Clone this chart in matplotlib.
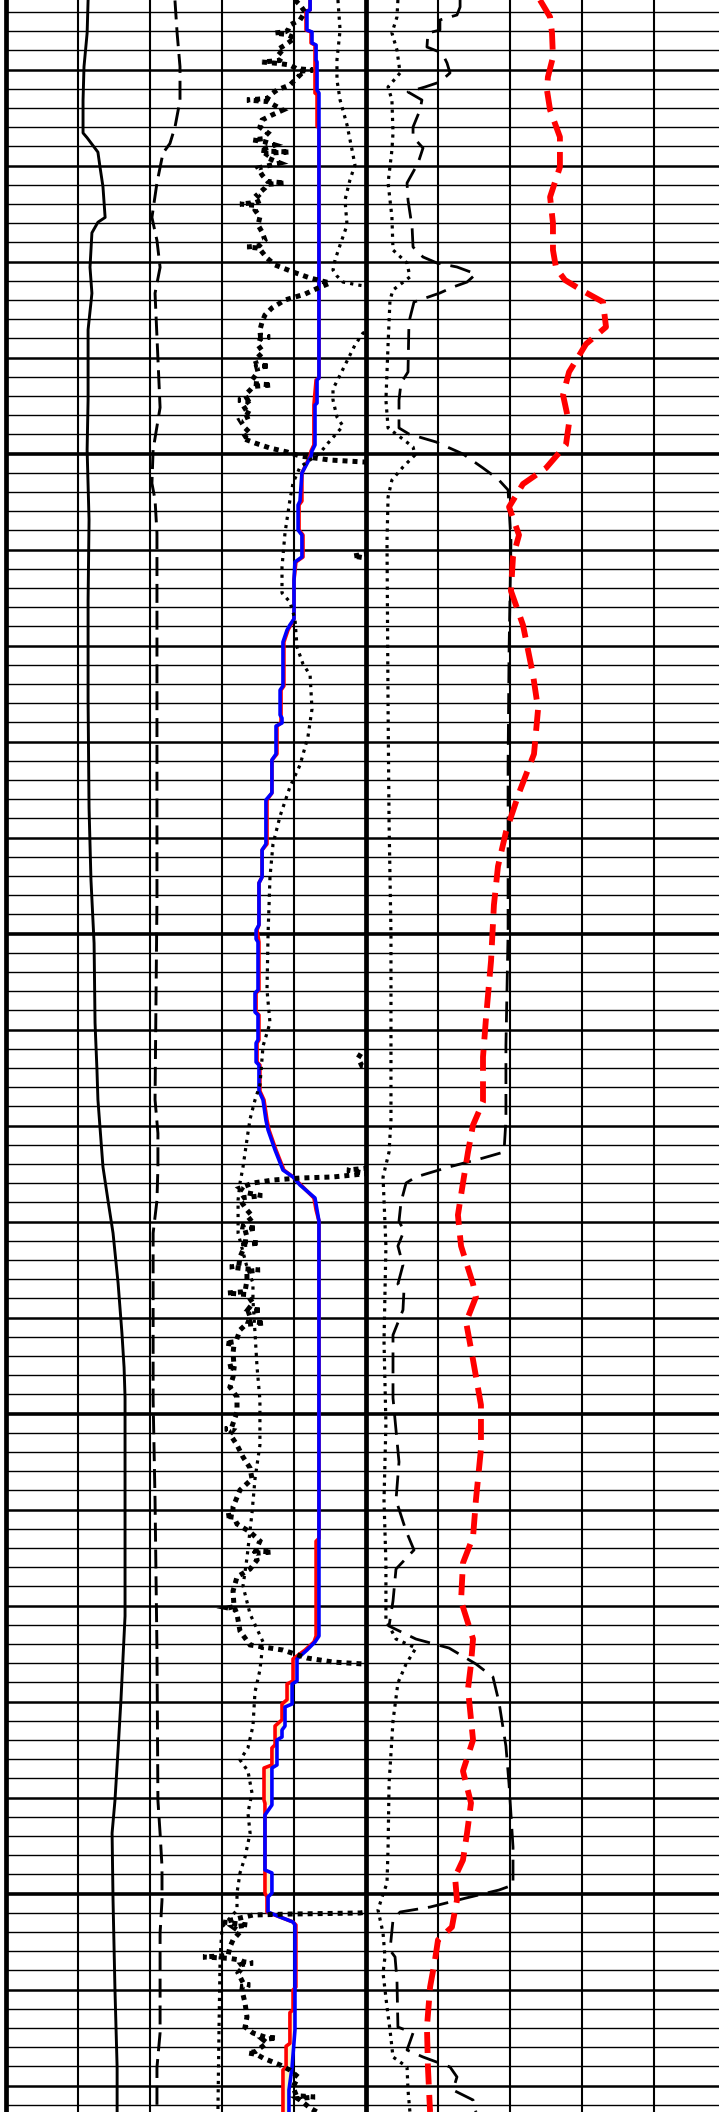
import numpy as np
import matplotlib
matplotlib.use("Agg")
import matplotlib.pyplot as plt

TOP, BASE = 1002.75, 1222.75

# track 1 -- solid black curve
gr_depth = [1002.8, 1006.2, 1009.7, 1013.2, 1016.6, 1017.1, 1018.6, 1020.2, 1022.2, 1025.4,
            1025.9, 1027.0, 1030.6, 1033.3, 1037.1, 1044.4, 1049.6, 1056.9, 1065.3, 1075.7,
            1086.9, 1094.4, 1101.0, 1109.3, 1114.2, 1117.3, 1124.3, 1127.8, 1131.2, 1136.4,
            1141.6, 1145.2, 1148.3, 1159.0, 1171.1, 1179.8, 1185.0, 1190.3, 1193.7, 1200.7,
            1210.0, 1218.1, 1222.8]
gr = [34.2, 33.8, 32.5, 32.1, 32.1, 33.8, 38.3, 39.2, 40.4, 41.3,
      38.3, 35.8, 35.0, 35.8, 34.2, 34.2, 33.8, 34.6, 34.2, 34.2,
      34.6, 35.4, 36.7, 37.1, 37.9, 38.3, 40.4, 42.5, 44.6, 46.7,
      48.3, 49.2, 49.6, 49.6, 49.6, 47.9, 46.7, 45.4, 44.2, 44.6,
      45.4, 46.3, 46.3]

# track 1 -- long dashed black curve
cali_depth = [1002.8, 1006.2, 1009.7, 1013.2, 1016.0, 1017.7, 1018.7, 1021.8, 1025.4, 1027.8,
              1030.6, 1033.3, 1045.2, 1049.6, 1053.1, 1054.8, 1058.3, 1075.7, 1096.5, 1117.3,
              1120.8, 1124.3, 1127.8, 1131.2, 1148.6, 1159.0, 1174.6, 1190.3, 1193.7, 1197.2,
              1200.7, 1204.1, 1214.5, 1218.1, 1222.8]
cali = [70.4, 71.3, 72.5, 72.5, 70.4, 68.3, 65.4, 62.9, 60.8, 62.9,
        64.2, 62.1, 64.2, 61.3, 60.8, 62.1, 62.9, 62.9, 62.9, 62.1,
        63.3, 63.3, 62.9, 61.3, 61.3, 62.1, 62.9, 63.3, 64.2, 65.0,
        65.0, 64.2, 64.2, 62.9, 62.9]

# track 1 -- blue curve
blue_depth = [1002.75, 1003.79, 1003.9, 1005.88, 1006.08, 1007.23, 1007.44, 1009.0, 1009.21, 1012.13,
              1012.44, 1042.13, 1042.33, 1044.73, 1044.94, 1049.1, 1049.73, 1050.25, 1052.02, 1054.94,
              1055.35, 1057.96, 1058.48, 1060.77, 1061.29, 1063.17, 1067.23, 1067.85, 1068.38, 1069.63,
              1074.21, 1074.63, 1077.23, 1077.54, 1078.06, 1078.38, 1081.29, 1081.92, 1085.35, 1086.08,
              1090.67, 1091.29, 1094.1, 1094.73, 1099.1, 1099.63, 1100.56, 1100.88, 1105.88, 1106.19,
              1108.17, 1108.48, 1111.08, 1111.4, 1113.38, 1113.69, 1116.4, 1117.33, 1119.42, 1120.46,
              1122.54, 1124.63, 1125.35, 1126.19, 1127.54, 1128.79, 1129.94, 1173.17, 1173.79, 1174.63,
              1175.56, 1177.85, 1178.17, 1180.25, 1180.56, 1182.54, 1182.96, 1183.69, 1184.0, 1186.6,
              1186.92, 1190.77, 1191.81, 1197.54, 1197.85, 1199.94, 1200.35, 1201.92, 1202.44, 1202.96,
              1203.27, 1214.2, 1218.06, 1220.46, 1222.75]
blue = [126.7, 126.7, 125.4, 125.4, 127.5, 127.5, 129.2, 129.2, 129.6, 129.6,
        130.4, 130.4, 129.6, 129.6, 128.75, 128.75, 127.5, 127.1, 123.3, 122.5,
        121.7, 121.7, 123.3, 123.3, 120.4, 120.0, 120.0, 118.3, 117.1, 115.4,
        115.4, 114.2, 114.2, 115.0, 115.0, 112.5, 112.5, 110.8, 110.8, 108.3,
        108.3, 106.7, 106.7, 105.4, 105.4, 104.2, 104.2, 105.0, 105.0, 103.75,
        103.75, 105.0, 105.0, 104.2, 104.2, 105.4, 105.4, 107.1, 108.3, 109.2,
        112.1, 115.4, 119.6, 122.5, 128.75, 129.6, 130.4, 130.4, 128.75, 125.4,
        121.25, 121.25, 119.2, 119.2, 116.25, 116.25, 115.0, 115.0, 112.9, 112.9,
        110.8, 110.8, 107.9, 107.9, 110.8, 110.8, 109.2, 109.2, 114.2, 119.6,
        120.4, 120.4, 119.2, 117.9, 117.9]

# track 1 -- red curve (under the blue one)
red_depth = [1002.75, 1003.79, 1003.9, 1005.88, 1006.08, 1007.23, 1007.44, 1012.44, 1012.6, 1015.9,
             1016.1, 1042.13, 1042.33, 1044.94, 1049.1, 1049.73, 1050.25, 1052.02, 1054.94, 1055.35,
             1057.96, 1058.48, 1060.77, 1061.29, 1063.17, 1067.23, 1068.38, 1069.63, 1074.21, 1074.63,
             1078.06, 1078.38, 1081.29, 1081.92, 1085.35, 1086.08, 1090.67, 1091.29, 1094.1, 1094.73,
             1099.1, 1099.63, 1100.88, 1105.88, 1106.19, 1108.17, 1108.48, 1111.08, 1111.4, 1113.38,
             1113.69, 1116.4, 1117.33, 1119.42, 1120.46, 1122.54, 1124.63, 1125.35, 1126.19, 1127.54,
             1128.79, 1129.94, 1163.0, 1163.3, 1173.17, 1173.79, 1174.63, 1175.56, 1177.85, 1178.17,
             1179.8, 1180.25, 1181.9, 1182.54, 1184.5, 1184.83, 1186.6, 1186.92, 1190.25, 1190.6,
             1199.94, 1200.35, 1201.92, 1202.44, 1202.96, 1203.27, 1209.73, 1210.04, 1212.1, 1212.4,
             1215.6, 1215.9, 1218.06, 1218.38, 1222.75]
red = [126.7, 126.7, 125.0, 125.0, 127.1, 127.1, 128.75, 128.75, 129.6, 129.6,
       130.4, 130.4, 129.2, 128.3, 128.3, 127.1, 126.7, 123.3, 123.3, 122.1,
       122.1, 123.75, 123.75, 120.8, 120.0, 120.0, 117.5, 115.8, 115.8, 114.6,
       114.6, 112.9, 112.9, 110.8, 110.8, 108.75, 108.75, 106.7, 106.7, 105.4,
       105.4, 104.6, 105.4, 105.4, 104.2, 104.2, 105.4, 105.4, 104.6, 104.6,
       105.8, 105.8, 107.5, 108.75, 109.6, 112.5, 115.8, 119.6, 122.9, 128.3,
       129.2, 130.4, 130.4, 129.2, 129.2, 128.3, 124.6, 119.6, 119.6, 117.1,
       117.1, 115.0, 115.0, 112.1, 112.1, 110.8, 110.8, 107.5, 107.5, 107.9,
       107.9, 108.75, 108.75, 114.2, 119.6, 120.8, 120.8, 119.6, 119.6, 118.3,
       118.3, 116.7, 116.7, 115.4, 115.4]

# track 1 -- heavy dotted curve, (depth, value); 160 = off scale to the right
heavy_pts = [
    (1002.75, 120.4), (1003.27, 122.5), (1004.0, 124.6), (1004.83, 122.5), (1005.35, 118.3),
    (1005.88, 117.5), (1006.05, 116.5), (1006.19, 112.0), (1006.35, 117.0), (1006.71, 120.4),
    (1007.44, 116.25), (1007.96, 112.9), (1008.48, 115.4), (1009.05, 114.0), (1009.21, 106.7),
    (1009.37, 114.0), (1009.52, 118.3), (1009.9, 121.0), (1010.04, 127.9), (1010.2, 121.5),
    (1010.56, 122.5), (1011.08, 120.4), (1011.6, 118.3), (1012.13, 112.9), (1012.65, 110.0),
    (1013.0, 109.0), (1013.17, 100.4), (1013.33, 109.0), (1014.21, 115.4), (1014.73, 110.8),
    (1015.25, 106.7), (1015.98, 105.8), (1016.6, 109.2), (1017.2, 107.0), (1017.33, 102.9),
    (1017.5, 107.5), (1017.85, 112.1), (1018.38, 105.8), (1018.5, 109.0), (1018.58, 118.3),
    (1018.7, 109.0), (1019.1, 107.9), (1019.73, 114.2), (1020.25, 105.0), (1020.98, 106.7),
    (1021.65, 109.0), (1021.81, 116.25), (1021.95, 109.0), (1022.33, 107.9), (1023.06, 104.6),
    (1023.58, 106.7), (1023.85, 104.0), (1024.0, 97.5), (1024.15, 104.0), (1024.63, 103.75),
    (1025.35, 105.8), (1026.19, 105.0), (1026.92, 106.7), (1027.75, 107.9), (1028.35, 105.5),
    (1028.48, 100.5), (1028.6, 105.5), (1029.0, 106.7), (1029.63, 108.75), (1030.35, 112.1),
    (1031.08, 119.6), (1031.71, 126.7), (1032.23, 135.0), (1032.75, 130.0), (1033.38, 124.6),
    (1034.0, 116.25), (1034.83, 110.8), (1035.56, 107.9), (1036.29, 106.7), (1037.13, 105.8),
    (1037.7, 106.0), (1037.85, 110.0), (1038.0, 106.0), (1038.69, 105.0), (1039.42, 107.1),
    (1040.25, 103.75), (1040.75, 104.5), (1040.88, 110.0), (1041.0, 104.5), (1041.5, 105.0),
    (1042.33, 102.5), (1042.7, 103.0), (1042.85, 110.8), (1043.0, 103.0), (1043.38, 101.7),
    (1043.9, 99.6), (1044.3, 100.5), (1044.42, 96.7), (1044.55, 100.5), (1044.94, 101.7),
    (1045.46, 98.3), (1045.98, 102.5), (1046.5, 97.5), (1047.33, 99.6), (1047.85, 101.7),
    (1048.38, 98.3), (1048.9, 103.75), (1049.42, 110.0), (1049.83, 117.1), (1050.25, 122.5),
    (1050.67, 135.0), (1050.88, 149.6), (1051.71, 160.0), (1060.04, 160.0), (1060.67, 144.6),
    (1061.29, 160.0), (1111.92, 160.0), (1112.33, 148.3), (1112.96, 146.7), (1113.79, 148.3),
    (1114.21, 160.0), (1124.21, 160.0), (1124.63, 142.1), (1125.0, 150.5), (1125.35, 136.25),
    (1125.46, 122.5), (1125.67, 111.25), (1125.98, 102.9), (1126.5, 97.5), (1127.0, 100.4),
    (1127.3, 106.7), (1127.5, 99.0), (1127.75, 97.5), (1128.79, 100.4), (1129.52, 102.9),
    (1130.3, 99.0), (1130.56, 98.75), (1130.67, 104.6), (1130.85, 99.6), (1131.6, 100.4),
    (1132.1, 99.6), (1132.23, 105.8), (1132.4, 99.0), (1132.96, 98.75), (1133.69, 97.5),
    (1134.6, 97.0), (1134.73, 93.3), (1134.9, 99.0), (1135.04, 105.8), (1135.2, 100.4),
    (1136.08, 100.4), (1137.3, 99.6), (1137.44, 92.1), (1137.6, 100.4), (1138.48, 102.9),
    (1139.1, 101.0), (1139.21, 106.7), (1139.4, 101.0), (1139.94, 101.7), (1140.4, 101.0),
    (1140.56, 107.9), (1140.7, 100.0), (1141.29, 97.5), (1142.5, 95.8), (1142.65, 91.25),
    (1142.8, 95.0), (1143.69, 94.6), (1145.0, 95.0), (1145.15, 92.1), (1145.3, 95.0),
    (1146.19, 94.6), (1147.23, 93.3), (1148.27, 96.25), (1149.83, 96.25), (1151.45, 94.0),
    (1151.6, 91.25), (1151.75, 94.5), (1152.13, 93.3), (1153.27, 96.25), (1154.52, 98.75),
    (1155.67, 101.7), (1156.81, 102.5), (1157.96, 97.5), (1159.73, 94.6), (1160.55, 94.5),
    (1160.67, 91.25), (1160.8, 95.0), (1161.5, 96.25), (1162.33, 101.7), (1163.27, 105.8),
    (1164.3, 104.0), (1164.42, 110.8), (1164.55, 104.0), (1165.25, 104.6), (1166.19, 101.7),
    (1167.02, 96.25), (1168.48, 94.6), (1170.1, 95.0), (1170.25, 92.5), (1170.4, 95.5),
    (1170.88, 96.25), (1172.65, 97.5), (1174.1, 101.7), (1174.63, 115.4), (1175.46, 125.4),
    (1175.88, 136.25), (1176.08, 148.75), (1176.71, 160.0), (1201.5, 160.0), (1202.02, 147.5),
    (1202.13, 118.3), (1202.23, 102.9), (1202.96, 90.4), (1203.27, 100.8), (1203.48, 94.6),
    (1204.0, 97.5), (1204.83, 94.6), (1205.56, 93.3), (1206.45, 92.5), (1206.6, 82.1),
    (1206.75, 93.3), (1206.92, 97.5), (1207.1, 99.0), (1207.23, 102.9), (1207.4, 98.0),
    (1207.65, 98.75), (1208.27, 96.7), (1209.4, 99.0), (1209.52, 101.7), (1209.65, 98.5),
    (1210.04, 98.3), (1211.4, 99.6), (1212.85, 100.4), (1213.9, 99.6), (1214.52, 102.9),
    (1214.94, 107.9), (1215.04, 112.9), (1215.2, 107.0), (1215.56, 108.75), (1216.45, 104.0),
    (1216.6, 100.8), (1216.75, 104.5), (1217.13, 107.1), (1217.85, 114.2), (1218.38, 118.3),
    (1219.1, 121.7), (1220.15, 119.6), (1221.05, 121.0), (1221.19, 128.75), (1221.35, 121.5),
    (1221.5, 122.5), (1222.33, 126.7), (1222.75, 129.6),
]

# track 1 -- light dotted curve
dot1_depth = [1002.75, 1005.88, 1009.0, 1011.08, 1013.17, 1015.77, 1018.38, 1019.94, 1021.5, 1023.58,
              1026.19, 1028.27, 1029.83, 1030.88, 1031.5, 1032.13, 1032.44, 1032.75, 1037.0, 1037.44,
              1038.69, 1040.35, 1041.81, 1043.27, 1044.42, 1046.19, 1047.13, 1048.9, 1049.94, 1051.4,
              1053.06, 1054.83, 1058.27, 1061.81, 1064.52, 1065.46, 1067.23, 1070.15, 1071.92, 1073.06,
              1076.6, 1079.52, 1082.44, 1084.73, 1087.75, 1090.67, 1094.1, 1099.94, 1105.88, 1109.31,
              1111.71, 1115.77, 1117.33, 1119.31, 1120.77, 1124.31, 1125.98, 1127.75, 1131.19, 1134.73,
              1136.4, 1138.17, 1141.6, 1145.15, 1148.58, 1153.27, 1156.81, 1160.35, 1165.04, 1167.96,
              1170.88, 1172.65, 1173.79, 1176.71, 1179.0, 1182.54, 1184.83, 1186.08, 1187.23, 1189.52,
              1191.6, 1193.69, 1196.19, 1197.85, 1199.94, 1201.71, 1203.48, 1206.92, 1214.21, 1222.75]
dot1 = [138.3, 139.2, 137.9, 137.9, 139.2, 142.1, 144.2, 145.4, 143.3, 141.25,
        142.1, 139.2, 137.1, 136.25, 137.9, 140.4, 146.7, 155.0, 155.0, 148.75,
        145.4, 142.1, 139.2, 136.25, 136.25, 137.9, 140.4, 134.2, 130.8, 122.5,
        119.6, 118.3, 116.25, 115.0, 115.0, 118.3, 120.4, 121.25, 123.75, 126.7,
        127.5, 125.8, 122.5, 118.3, 114.2, 111.25, 110.0, 109.2, 108.75, 110.0,
        107.1, 105.8, 103.75, 101.7, 100.8, 98.75, 97.5, 96.7, 96.7, 100.4,
        102.9, 102.9, 103.75, 104.6, 105.8, 105.8, 103.75, 102.5, 100.4, 98.75,
        101.7, 105.0, 107.1, 105.8, 103.75, 102.9, 100.8, 97.5, 100.8, 102.5,
        100.8, 101.7, 99.6, 97.5, 96.25, 96.25, 90.0, 89.2, 88.75, 88.3]

# track 2 -- light dotted curve
dot2_depth = [1002.75, 1004.52, 1006.19, 1007.96, 1010.35, 1011.81, 1013.17, 1016.6, 1018.38, 1021.81,
              1025.35, 1028.79, 1030.15, 1031.6, 1032.96, 1034.0, 1038.58, 1044.42, 1047.33, 1048.27,
              1049.31, 1050.15, 1051.4, 1052.75, 1054.52, 1059.1, 1076.6, 1088.27, 1099.94, 1119.42,
              1122.75, 1125.35, 1132.54, 1142.44, 1151.08, 1159.0, 1165.56, 1171.5, 1173.48, 1174.42,
              1176.08, 1178.06, 1182.02, 1188.58, 1195.15, 1198.9, 1200.35, 1201.71, 1204.1, 1206.6,
              1208.27, 1211.81, 1214.21, 1217.02, 1218.06, 1220.46, 1222.75]
dot2 = [13.3, 12.9, 10.8, 12.9, 14.2, 9.2, 10.8, 11.25, 10.8, 9.2,
        10.8, 11.25, 17.1, 18.3, 11.25, 10.0, 9.2, 8.3, 9.2, 14.2,
        19.6, 20.4, 15.4, 10.8, 9.2, 8.75, 9.2, 9.6, 10.4, 10.4,
        9.6, 7.1, 8.3, 7.5, 8.3, 7.5, 8.3, 8.3, 12.5, 20.8,
        16.7, 13.3, 11.25, 9.6, 9.2, 8.75, 6.7, 5.0, 7.1, 7.9,
        7.1, 8.75, 10.0, 11.25, 17.1, 17.5, 18.3]

# track 2 -- long dashed black curve
dash2_depth = [1002.75, 1003.48, 1004.31, 1004.83, 1005.88, 1006.19, 1007.65, 1008.27, 1009.31, 1010.35,
               1011.29, 1011.81, 1012.33, 1013.17, 1014.21, 1015.98, 1017.02, 1018.17, 1019.73, 1021.81,
               1023.58, 1026.4, 1028.48, 1029.52, 1030.15, 1030.56, 1031.29, 1032.13, 1032.65, 1033.27,
               1034.21, 1036.29, 1041.5, 1042.65, 1044.42, 1047.33, 1047.96, 1048.79, 1050.04, 1051.5,
               1052.65, 1053.79, 1059.1, 1070.77, 1082.44, 1099.94, 1111.71, 1119.42, 1122.75, 1123.38,
               1124.31, 1125.35, 1125.98, 1127.96, 1129.94, 1130.98, 1132.54, 1134.52, 1136.5, 1137.23,
               1139.21, 1141.81, 1145.77, 1148.38, 1155.04, 1159.0, 1162.23, 1164.21, 1166.19, 1169.52,
               1172.13, 1173.48, 1174.42, 1176.08, 1177.44, 1180.04, 1184.63, 1188.58, 1195.15, 1199.1,
               1199.63, 1200.46, 1201.4, 1201.92, 1202.75, 1205.88, 1206.6, 1209.0, 1213.9, 1214.52,
               1216.29, 1217.02, 1218.06, 1219.1, 1220.46, 1221.5, 1222.75]
dash2 = [39.2, 39.2, 37.9, 30.8, 30.8, 25.8, 25.4, 31.7, 33.75, 35.0,
         30.8, 24.6, 17.5, 23.3, 22.5, 19.6, 19.6, 23.75, 21.7, 17.1,
         17.5, 19.2, 19.6, 23.75, 29.6, 37.9, 45.8, 42.1, 36.25, 30.8,
         20.0, 17.9, 17.5, 14.6, 13.75, 13.75, 17.9, 29.2, 40.4, 48.75,
         55.0, 59.2, 60.4, 59.6, 59.2, 59.2, 58.3, 58.3, 57.5, 48.75,
         34.6, 20.8, 16.7, 14.6, 13.75, 15.8, 13.3, 15.4, 13.3, 15.8,
         15.4, 11.25, 11.25, 11.25, 13.75, 12.5, 16.7, 20.0, 12.5, 11.25,
         9.6, 20.8, 34.6, 45.8, 52.9, 55.4, 58.3, 59.6, 61.25, 61.25,
         55.4, 41.7, 26.7, 14.2, 11.25, 10.0, 12.1, 12.9, 13.3, 19.6,
         17.1, 23.75, 35.0, 37.9, 36.25, 44.6, 45.8]

# track 2 -- heavy red dashed curve
red2_depth = [1002.75, 1004.52, 1006.19, 1008.69, 1010.77, 1012.13, 1014.21, 1017.02, 1020.15, 1023.27,
              1025.98, 1028.79, 1030.67, 1031.92, 1033.06, 1034.21, 1036.81, 1038.58, 1041.5, 1043.9,
              1046.81, 1049.1, 1051.5, 1053.17, 1055.56, 1058.48, 1060.77, 1064.31, 1067.85, 1073.06,
              1076.6, 1081.29, 1085.35, 1089.42, 1092.98, 1097.02, 1102.85, 1108.79, 1112.85, 1117.54,
              1119.94, 1122.75, 1125.98, 1129.31, 1132.54, 1136.5, 1137.85, 1140.46, 1144.42, 1149.1,
              1153.69, 1159.0, 1162.85, 1165.56, 1169.52, 1173.48, 1176.08, 1178.69, 1184.0, 1187.23,
              1190.56, 1193.69, 1196.5, 1198.27, 1200.67, 1203.48, 1204.83, 1206.92, 1209.73, 1213.9,
              1218.06, 1222.75]
red2 = [72.5, 76.7, 77.5, 77.9, 75.8, 75.4, 76.7, 80.8, 80.8, 76.7,
        77.9, 77.9, 79.2, 82.9, 90.4, 98.75, 100.0, 91.7, 84.6, 82.1,
        84.6, 83.3, 75.0, 65.4, 59.6, 63.75, 61.25, 60.4, 65.4, 69.6,
        71.7, 70.0, 63.75, 58.3, 55.0, 53.3, 52.1, 50.0, 48.75, 48.75,
        44.6, 42.5, 40.4, 38.3, 39.6, 44.6, 45.8, 41.7, 44.6, 47.9,
        47.9, 45.8, 44.6, 40.4, 39.6, 44.6, 43.75, 42.5, 44.6, 40.4,
        43.75, 42.1, 40.4, 37.1, 37.9, 35.8, 30.0, 28.75, 26.7, 25.4,
        25.8, 26.7]


def setup_track(ax):
    """Blank track with the depth grid and four vertical divisions."""
    ax.set_xlim(0, 150)
    ax.set_ylim(BASE, TOP)
    ax.set_xticks([])
    ax.set_yticks([])
    for d in np.arange(1004, 1223, 2):
        if d % 50 == 0:
            lw = 2.6
        elif d % 10 == 0:
            lw = 1.8
        else:
            lw = 1.0
        ax.axhline(d, color="black", lw=lw, zorder=1)
    for x in (30, 60, 90, 120):
        ax.axvline(x, color="black", lw=1.5, zorder=1)
    for s in ax.spines.values():
        s.set_visible(False)
    ax.patch.set_visible(False)


def main():
    fig = plt.figure(figsize=(7.19, 21.12), dpi=100)
    fig.patch.set_facecolor("white")
    ax2 = fig.add_axes([366 / 719, 0, 360 / 719, 1])
    ax1 = fig.add_axes([6 / 719, 0, 360 / 719, 1])
    setup_track(ax1)
    setup_track(ax2)
    for side in ("left", "right"):
        ax1.spines[side].set_visible(True)
        ax1.spines[side].set_linewidth(3.4)
        ax1.spines[side].set_zorder(10)

    # yellow where the red curve reads lower than the blue one
    grid = np.union1d(red_depth, blue_depth)
    r = np.interp(grid, red_depth, red)
    b = np.interp(grid, blue_depth, blue)
    ax1.fill_betweenx(grid, r, b, where=r < b, color="#fbf3c0", lw=0, zorder=2)

    heavy_depth = [p[0] for p in heavy_pts]
    heavy = [p[1] for p in heavy_pts]

    ax1.plot(red, red_depth, color="red", lw=2.6, zorder=3)
    ax1.plot(blue, blue_depth, color="blue", lw=2.6, zorder=4)
    ax1.plot(gr, gr_depth, color="black", lw=2.1, zorder=5)
    ax1.plot(cali, cali_depth, color="black", lw=2.1, ls=(0, (6.5, 2.7)), zorder=5)
    ax1.plot(dot1, dot1_depth, color="black", lw=2.3, ls=(0, (1, 1.6)), zorder=5)
    ax1.plot(heavy, heavy_depth, color="black", lw=3.6, ls=(0, (1, 1)),
             dash_joinstyle="miter", zorder=6)

    ax2.plot(dot2, dot2_depth, color="black", lw=2.3, ls=(0, (1, 1.6)), zorder=5)
    ax2.plot(dash2, dash2_depth, color="black", lw=2.0, ls=(0, (7.5, 3.6)), zorder=5)
    ax2.plot(red2, red2_depth, color="red", lw=4.2, ls=(0, (3.6, 1.8)), zorder=6)

    fig.savefig("out.png", dpi=100, facecolor="white")


if __name__ == "__main__":
    main()
